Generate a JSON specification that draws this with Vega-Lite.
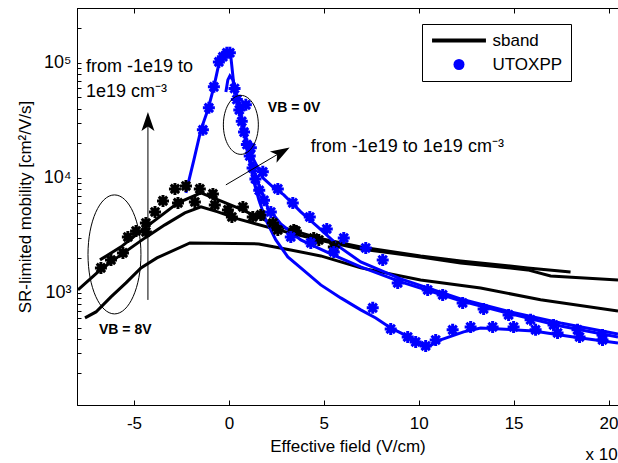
{
  "$schema": "https://vega.github.io/schema/vega-lite/v6.json",
  "width": 541,
  "height": 397,
  "autosize": {"type": "none"},
  "padding": {"left": 77, "top": 8, "right": 0, "bottom": 58},
  "background": "white",
  "config": {
    "font": "Liberation Sans",
    "view": {"stroke": "black", "strokeWidth": 1},
    "axis": {"domainColor": "black", "tickColor": "black", "labelColor": "black", "titleColor": "black", "labelFont": "Liberation Sans", "titleFont": "Liberation Sans", "grid": false, "domainWidth": 1, "tickWidth": 1, "labelFontSize": 17, "titleFontSize": 17, "titleFontWeight": "normal"},
    "text": {"font": "Liberation Sans"}
  },
  "datasets": {
    "lines": [
      {"s": "b1", "m": "sband", "x": -7.58, "y": 606}, {"s": "b1", "m": "sband", "x": -7.0, "y": 683}, {"s": "b1", "m": "sband", "x": -6.21, "y": 923}, {"s": "b1", "m": "sband", "x": -5.42, "y": 1222}, {"s": "b1", "m": "sband", "x": -4.63, "y": 1650}, {"s": "b1", "m": "sband", "x": -3.79, "y": 2015}, {"s": "b1", "m": "sband", "x": -2.05, "y": 2722}, {"s": "b1", "m": "sband", "x": 1.58, "y": 2667}, {"s": "b1", "m": "sband", "x": 3.26, "y": 2365}, {"s": "b1", "m": "sband", "x": 4.84, "y": 2097}, {"s": "b1", "m": "sband", "x": 6.95, "y": 1650}, {"s": "b1", "m": "sband", "x": 10.1, "y": 1297}, {"s": "b1", "m": "sband", "x": 13.26, "y": 1105}, {"s": "b1", "m": "sband", "x": 16.42, "y": 871}, {"s": "b1", "m": "sband", "x": 20.5, "y": 697},
      {"s": "b2", "m": "sband", "x": -7.95, "y": 1062}, {"s": "b2", "m": "sband", "x": -6.89, "y": 1522}, {"s": "b2", "m": "sband", "x": -5.84, "y": 2056}, {"s": "b2", "m": "sband", "x": -4.42, "y": 3008}, {"s": "b2", "m": "sband", "x": -3.37, "y": 3906}, {"s": "b2", "m": "sband", "x": -2.32, "y": 4963}, {"s": "b2", "m": "sband", "x": -1.47, "y": 5595}, {"s": "b2", "m": "sband", "x": -0.58, "y": 5062}, {"s": "b2", "m": "sband", "x": 0.47, "y": 4401}, {"s": "b2", "m": "sband", "x": 2.58, "y": 3530}, {"s": "b2", "m": "sband", "x": 4.68, "y": 2894}, {"s": "b2", "m": "sband", "x": 6.95, "y": 2413}, {"s": "b2", "m": "sband", "x": 10.1, "y": 2056}, {"s": "b2", "m": "sband", "x": 12.21, "y": 1823}, {"s": "b2", "m": "sband", "x": 15.74, "y": 1585}, {"s": "b2", "m": "sband", "x": 16.95, "y": 1405}, {"s": "b2", "m": "sband", "x": 20.5, "y": 1297},
      {"s": "b3", "m": "sband", "x": -6.79, "y": 1936}, {"s": "b3", "m": "sband", "x": -5.68, "y": 2512}, {"s": "b3", "m": "sband", "x": -4.42, "y": 3675}, {"s": "b3", "m": "sband", "x": -2.68, "y": 6063}, {"s": "b3", "m": "sband", "x": -1.47, "y": 7407}, {"s": "b3", "m": "sband", "x": 0.47, "y": 5485}, {"s": "b3", "m": "sband", "x": 2.58, "y": 3825}, {"s": "b3", "m": "sband", "x": 4.68, "y": 3008}, {"s": "b3", "m": "sband", "x": 6.95, "y": 2512}, {"s": "b3", "m": "sband", "x": 10.1, "y": 2097}, {"s": "b3", "m": "sband", "x": 12.21, "y": 1897}, {"s": "b3", "m": "sband", "x": 15.74, "y": 1650}, {"s": "b3", "m": "sband", "x": 18.0, "y": 1522},
      {"s": "u1", "m": "UTOXPP", "x": -2.263, "y": 7407}, {"s": "u1", "m": "UTOXPP", "x": -1.842, "y": 14340}, {"s": "u1", "m": "UTOXPP", "x": -1.474, "y": 26150}, {"s": "u1", "m": "UTOXPP", "x": -1.105, "y": 39030}, {"s": "u1", "m": "UTOXPP", "x": -0.789, "y": 61850}, {"s": "u1", "m": "UTOXPP", "x": -0.526, "y": 98000}, {"s": "u1", "m": "UTOXPP", "x": -0.263, "y": 117400}, {"s": "u1", "m": "UTOXPP", "x": -0.053, "y": 122200}, {"s": "u1", "m": "UTOXPP", "x": 0.105, "y": 112800}, {"s": "u1", "m": "UTOXPP", "x": 0.263, "y": 64380}, {"s": "u1", "m": "UTOXPP", "x": 0.474, "y": 47690}, {"s": "u1", "m": "UTOXPP", "x": 0.737, "y": 28910}, {"s": "u1", "m": "UTOXPP", "x": 1.0, "y": 18240}, {"s": "u1", "m": "UTOXPP", "x": 1.316, "y": 11280}, {"s": "u1", "m": "UTOXPP", "x": 1.684, "y": 7865}, {"s": "u1", "m": "UTOXPP", "x": 2.053, "y": 5485}, {"s": "u1", "m": "UTOXPP", "x": 2.737, "y": 3981}, {"s": "u1", "m": "UTOXPP", "x": 3.789, "y": 2891}, {"s": "u1", "m": "UTOXPP", "x": 5.368, "y": 2183}, {"s": "u1", "m": "UTOXPP", "x": 6.947, "y": 1683}, {"s": "u1", "m": "UTOXPP", "x": 9.053, "y": 1246}, {"s": "u1", "m": "UTOXPP", "x": 12.211, "y": 852}, {"s": "u1", "m": "UTOXPP", "x": 14.842, "y": 657}, {"s": "u1", "m": "UTOXPP", "x": 17.474, "y": 516}, {"s": "u1", "m": "UTOXPP", "x": 20.5, "y": 414},
      {"s": "u2", "m": "UTOXPP", "x": -0.158, "y": 55950}, {"s": "u2", "m": "UTOXPP", "x": -0.053, "y": 71160}, {"s": "u2", "m": "UTOXPP", "x": 0.053, "y": 77090}, {"s": "u2", "m": "UTOXPP", "x": 0.211, "y": 71160}, {"s": "u2", "m": "UTOXPP", "x": 0.368, "y": 52700}, {"s": "u2", "m": "UTOXPP", "x": 0.579, "y": 37490}, {"s": "u2", "m": "UTOXPP", "x": 0.789, "y": 26150}, {"s": "u2", "m": "UTOXPP", "x": 1.053, "y": 18240}, {"s": "u2", "m": "UTOXPP", "x": 1.316, "y": 14340}, {"s": "u2", "m": "UTOXPP", "x": 1.789, "y": 10000}, {"s": "u2", "m": "UTOXPP", "x": 2.316, "y": 8350}, {"s": "u2", "m": "UTOXPP", "x": 2.895, "y": 7116}, {"s": "u2", "m": "UTOXPP", "x": 3.789, "y": 5062}, {"s": "u2", "m": "UTOXPP", "x": 4.684, "y": 3750}, {"s": "u2", "m": "UTOXPP", "x": 5.895, "y": 2462}, {"s": "u2", "m": "UTOXPP", "x": 6.947, "y": 1860}, {"s": "u2", "m": "UTOXPP", "x": 9.053, "y": 1323}, {"s": "u2", "m": "UTOXPP", "x": 12.211, "y": 887}, {"s": "u2", "m": "UTOXPP", "x": 14.842, "y": 684}, {"s": "u2", "m": "UTOXPP", "x": 17.474, "y": 548}, {"s": "u2", "m": "UTOXPP", "x": 20.5, "y": 440},
      {"s": "u3", "m": "UTOXPP", "x": 0.474, "y": 47690}, {"s": "u3", "m": "UTOXPP", "x": 0.737, "y": 27210}, {"s": "u3", "m": "UTOXPP", "x": 1.0, "y": 16830}, {"s": "u3", "m": "UTOXPP", "x": 1.263, "y": 10000}, {"s": "u3", "m": "UTOXPP", "x": 1.579, "y": 6438}, {"s": "u3", "m": "UTOXPP", "x": 1.947, "y": 4313}, {"s": "u3", "m": "UTOXPP", "x": 2.474, "y": 2891}, {"s": "u3", "m": "UTOXPP", "x": 3.105, "y": 2056}, {"s": "u3", "m": "UTOXPP", "x": 3.789, "y": 1650}, {"s": "u3", "m": "UTOXPP", "x": 4.842, "y": 1174}, {"s": "u3", "m": "UTOXPP", "x": 5.895, "y": 905}, {"s": "u3", "m": "UTOXPP", "x": 6.947, "y": 712}, {"s": "u3", "m": "UTOXPP", "x": 7.737, "y": 606}, {"s": "u3", "m": "UTOXPP", "x": 8.526, "y": 496}, {"s": "u3", "m": "UTOXPP", "x": 9.579, "y": 406}, {"s": "u3", "m": "UTOXPP", "x": 10.474, "y": 339}, {"s": "u3", "m": "UTOXPP", "x": 11.158, "y": 390}, {"s": "u3", "m": "UTOXPP", "x": 12.368, "y": 458}, {"s": "u3", "m": "UTOXPP", "x": 13.263, "y": 496}, {"s": "u3", "m": "UTOXPP", "x": 14.316, "y": 486}, {"s": "u3", "m": "UTOXPP", "x": 16.053, "y": 467}, {"s": "u3", "m": "UTOXPP", "x": 18.158, "y": 414}, {"s": "u3", "m": "UTOXPP", "x": 20.5, "y": 367}
    ],
    "markers": [
      {"m": "sband", "x": -5.32, "y": 3069}, {"m": "sband", "x": -4.89, "y": 3460}, {"m": "sband", "x": -4.37, "y": 4062}, {"m": "sband", "x": -3.89, "y": 5062}, {"m": "sband", "x": -3.47, "y": 6310}, {"m": "sband", "x": -2.84, "y": 8025}, {"m": "sband", "x": -2.26, "y": 8520}, {"m": "sband", "x": -1.53, "y": 8025}, {"m": "sband", "x": -0.84, "y": 7260}, {"m": "sband", "x": -0.05, "y": 5270}, {"m": "sband", "x": 0.74, "y": 5595}, {"m": "sband", "x": 1.68, "y": 4768}, {"m": "sband", "x": 2.32, "y": 4062}, {"m": "sband", "x": 3.42, "y": 3530}, {"m": "sband", "x": 4.47, "y": 3008}, {"m": "sband", "x": 5.53, "y": 2512},
      {"m": "sband", "x": -6.74, "y": 1650}, {"m": "sband", "x": -6.21, "y": 1936}, {"m": "sband", "x": -5.58, "y": 2228}, {"m": "sband", "x": -4.37, "y": 3392}, {"m": "sband", "x": -2.68, "y": 6063}, {"m": "sband", "x": -1.79, "y": 6184}, {"m": "sband", "x": -0.74, "y": 5824}, {"m": "sband", "x": 0.16, "y": 4580}, {"m": "sband", "x": 1.26, "y": 4580}, {"m": "sband", "x": 2.58, "y": 3530}, {"m": "sband", "x": 3.53, "y": 3460}, {"m": "sband", "x": 4.74, "y": 2890},
      {"m": "UTOXPP", "x": -1.368, "y": 26150}, {"m": "UTOXPP", "x": -1.053, "y": 40620}, {"m": "UTOXPP", "x": -0.789, "y": 61850}, {"m": "UTOXPP", "x": -0.526, "y": 102000}, {"m": "UTOXPP", "x": -0.316, "y": 112800}, {"m": "UTOXPP", "x": -0.105, "y": 122200}, {"m": "UTOXPP", "x": 0.053, "y": 122200}, {"m": "UTOXPP", "x": 0.3, "y": 60000}, {"m": "UTOXPP", "x": 0.42, "y": 48000}, {"m": "UTOXPP", "x": 0.55, "y": 39000}, {"m": "UTOXPP", "x": 0.68, "y": 31000}, {"m": "UTOXPP", "x": 0.8, "y": 25000}, {"m": "UTOXPP", "x": 0.95, "y": 19500}, {"m": "UTOXPP", "x": 1.1, "y": 15500}, {"m": "UTOXPP", "x": 1.25, "y": 12200}, {"m": "UTOXPP", "x": 1.4, "y": 9800}, {"m": "UTOXPP", "x": 1.6, "y": 7800}, {"m": "UTOXPP", "x": 1.85, "y": 6400}, {"m": "UTOXPP", "x": 2.211, "y": 5062}, {"m": "UTOXPP", "x": 3.263, "y": 3069}, {"m": "UTOXPP", "x": 4.316, "y": 2722}, {"m": "UTOXPP", "x": 5.526, "y": 2273}, {"m": "UTOXPP", "x": 8.895, "y": 1222}, {"m": "UTOXPP", "x": 10.474, "y": 1062}, {"m": "UTOXPP", "x": 11.263, "y": 961}, {"m": "UTOXPP", "x": 12.316, "y": 818}, {"m": "UTOXPP", "x": 13.421, "y": 726}, {"m": "UTOXPP", "x": 14.737, "y": 644}, {"m": "UTOXPP", "x": 15.895, "y": 583}, {"m": "UTOXPP", "x": 17.105, "y": 527}, {"m": "UTOXPP", "x": 18.368, "y": 477}, {"m": "UTOXPP", "x": 19.684, "y": 431},
      {"m": "UTOXPP", "x": 0.895, "y": 43140}, {"m": "UTOXPP", "x": 1.158, "y": 18240}, {"m": "UTOXPP", "x": 1.789, "y": 11280}, {"m": "UTOXPP", "x": 2.579, "y": 8025}, {"m": "UTOXPP", "x": 3.368, "y": 6063}, {"m": "UTOXPP", "x": 4.263, "y": 4580}, {"m": "UTOXPP", "x": 5.158, "y": 3602}, {"m": "UTOXPP", "x": 6.053, "y": 3008}, {"m": "UTOXPP", "x": 7.211, "y": 2462}, {"m": "UTOXPP", "x": 8.105, "y": 1936}, {"m": "UTOXPP", "x": 7.579, "y": 741},
      {"m": "UTOXPP", "x": 8.526, "y": 486}, {"m": "UTOXPP", "x": 9.421, "y": 414}, {"m": "UTOXPP", "x": 9.842, "y": 375}, {"m": "UTOXPP", "x": 10.368, "y": 346}, {"m": "UTOXPP", "x": 10.895, "y": 390}, {"m": "UTOXPP", "x": 11.789, "y": 477}, {"m": "UTOXPP", "x": 12.737, "y": 506}, {"m": "UTOXPP", "x": 13.895, "y": 506}, {"m": "UTOXPP", "x": 15.0, "y": 506}, {"m": "UTOXPP", "x": 16.158, "y": 477}, {"m": "UTOXPP", "x": 17.316, "y": 449}, {"m": "UTOXPP", "x": 18.474, "y": 414}, {"m": "UTOXPP", "x": 19.684, "y": 390}
    ],
    "arrows": [
      {"x": -4.263, "y": 869, "x2": -4.263, "y2": 28910},
      {"x": -0.158, "y": 8692, "x2": 2.79, "y2": 16830}
    ],
    "headUp": [{"x": -4.263, "y": 30690}],
    "headDiag": [{"x": 2.747, "y": 16630}],
    "ellSmall": [{"x": 0.632, "y": 28910}],
    "ellLarge": [{"x": -6.026, "y": 2161}],
    "texts": [
      {"t": "from -1e19 to", "x": -7.526, "y": 92300},
      {"t": "1e19 cm⁻³", "x": -7.526, "y": 55950},
      {"t": "from -1e19 to 1e19 cm⁻³", "x": 4.316, "y": 18610}
    ],
    "scaleNote": [
      {"t": "x 10⁵", "x": 18.79, "y": 39}
    ],
    "boldTexts": [
      {"t": "VB = 0V", "x": 2.053, "y": 40620},
      {"t": "VB = 8V", "x": -6.842, "y": 477}
    ]
  },
  "resolve": {"axis": {"x": "independent"}},
  "layer": [
    {
      "data": {"name": "lines"},
      "mark": {"type": "line", "strokeWidth": 3, "clip": true},
      "encoding": {
        "x": {"field": "x", "type": "quantitative", "scale": {"type": "linear", "domain": [-8, 20.5], "nice": false, "zero": false},
          "axis": {"orient": "bottom", "values": [-5, 0, 5, 10, 15, 20], "labelExpr": "replace(datum.label, '−', '-')", "title": "Effective field (V/cm)", "tickSize": -5, "labelPadding": 15, "titlePadding": 7, "labelFlush": false, "labelOverlap": false}},
        "y": {"field": "y", "type": "quantitative", "scale": {"type": "log", "domain": [106, 300000], "nice": false},
          "axis": {"orient": "left", "values": [200, 300, 400, 500, 600, 700, 800, 900, 1000, 2000, 3000, 4000, 5000, 6000, 7000, 8000, 9000, 10000, 20000, 30000, 40000, 50000, 60000, 70000, 80000, 90000, 100000, 200000, 300000],
            "labelExpr": "datum.value == 1000 ? '10³' : datum.value == 10000 ? '10⁴' : datum.value == 100000 ? '10⁵' : ''",
            "labelFontSize": 18, "tickSize": -4, "labelPadding": 10, "title": "SR-limited mobility [cm²/V/s]", "titlePadding": 9, "labelOverlap": false, "labelFlush": false}},
        "detail": {"field": "s"},
        "color": {"field": "m", "type": "nominal", "scale": {"domain": ["sband", "UTOXPP"], "range": ["black", "blue"]},
          "legend": {"orient": "none", "legendX": 345, "legendY": 16, "title": null, "fillColor": "white", "strokeColor": "black", "padding": 8, "cornerRadius": 0,
            "labelFontSize": 17, "labelFont": "Liberation Sans", "labelColor": "black", "symbolSize": 121, "symbolOffset": 20.5, "labelOffset": 25, "rowPadding": 6,
            "encode": {"symbols": {"update": {
              "shape": {"signal": "datum.value === 'sband' ? 'M-4.9,0L4.9,0' : 'circle'"},
              "fill": {"signal": "datum.value === 'sband' ? 'transparent' : 'blue'"},
              "stroke": {"signal": "datum.value === 'sband' ? 'black' : 'blue'"},
              "strokeWidth": {"signal": "datum.value === 'sband' ? 4 : 0"},
              "size": {"value": 121},
              "opacity": {"value": 1}
            }}}}}
      }
    },
    {
      "data": {"name": "markers"},
      "mark": {"type": "point", "shape": "M-1,0L1,0M0,-1L0,1M-0.7,-0.7L0.7,0.7M-0.7,0.7L0.7,-0.7", "size": 144, "strokeWidth": 3, "filled": false, "opacity": 1, "clip": true},
      "encoding": {
        "x": {"field": "x", "type": "quantitative", "axis": {"orient": "top", "values": [-5, 0, 5, 10, 15, 20], "labels": false, "title": null, "tickSize": -5}},
        "y": {"field": "y", "type": "quantitative"},
        "color": {"field": "m", "type": "nominal"}
      }
    },
    {
      "data": {"name": "arrows"},
      "mark": {"type": "rule", "color": "black", "strokeWidth": 1},
      "encoding": {
        "x": {"field": "x", "type": "quantitative", "axis": null},
        "y": {"field": "y", "type": "quantitative"},
        "x2": {"field": "x2"},
        "y2": {"field": "y2"}
      }
    },
    {
      "data": {"name": "headUp"},
      "mark": {"type": "point", "shape": "M0,-1L0.65,0.9L0,0.45L-0.65,0.9Z", "size": 400, "filled": true, "color": "black", "opacity": 1, "angle": 0},
      "encoding": {
        "x": {"field": "x", "type": "quantitative", "axis": null},
        "y": {"field": "y", "type": "quantitative"}
      }
    },
    {
      "data": {"name": "headDiag"},
      "mark": {"type": "point", "shape": "M0,-1L0.65,0.9L0,0.45L-0.65,0.9Z", "size": 400, "filled": true, "color": "black", "opacity": 1, "angle": 59.6},
      "encoding": {
        "x": {"field": "x", "type": "quantitative", "axis": null},
        "y": {"field": "y", "type": "quantitative"}
      }
    },
    {
      "data": {"name": "ellSmall"},
      "mark": {"type": "point", "shape": "M0,-1A0.593,1,0,1,1,0,1A0.593,1,0,1,1,0,-1Z", "size": 3481, "filled": false, "stroke": "black", "strokeWidth": 1, "opacity": 1},
      "encoding": {
        "x": {"field": "x", "type": "quantitative", "axis": null},
        "y": {"field": "y", "type": "quantitative"}
      }
    },
    {
      "data": {"name": "ellLarge"},
      "mark": {"type": "point", "shape": "M0,-1A0.445,1,0,1,1,0,1A0.445,1,0,1,1,0,-1Z", "size": 14161, "filled": false, "stroke": "black", "strokeWidth": 1, "opacity": 1},
      "encoding": {
        "x": {"field": "x", "type": "quantitative", "axis": null},
        "y": {"field": "y", "type": "quantitative"}
      }
    },
    {
      "data": {"name": "texts"},
      "mark": {"type": "text", "align": "left", "baseline": "middle", "fontSize": 18, "color": "black", "font": "Liberation Sans"},
      "encoding": {
        "x": {"field": "x", "type": "quantitative", "axis": null},
        "y": {"field": "y", "type": "quantitative"},
        "text": {"field": "t"}
      }
    },
    {
      "data": {"name": "scaleNote"},
      "mark": {"type": "text", "align": "left", "baseline": "middle", "fontSize": 17, "color": "black", "font": "Liberation Sans"},
      "encoding": {
        "x": {"field": "x", "type": "quantitative", "axis": null},
        "y": {"field": "y", "type": "quantitative"},
        "text": {"field": "t"}
      }
    },
    {
      "data": {"name": "boldTexts"},
      "mark": {"type": "text", "align": "left", "baseline": "middle", "fontSize": 14, "fontWeight": "bold", "color": "black", "font": "Liberation Sans"},
      "encoding": {
        "x": {"field": "x", "type": "quantitative", "axis": null},
        "y": {"field": "y", "type": "quantitative"},
        "text": {"field": "t"}
      }
    }
  ]
}
